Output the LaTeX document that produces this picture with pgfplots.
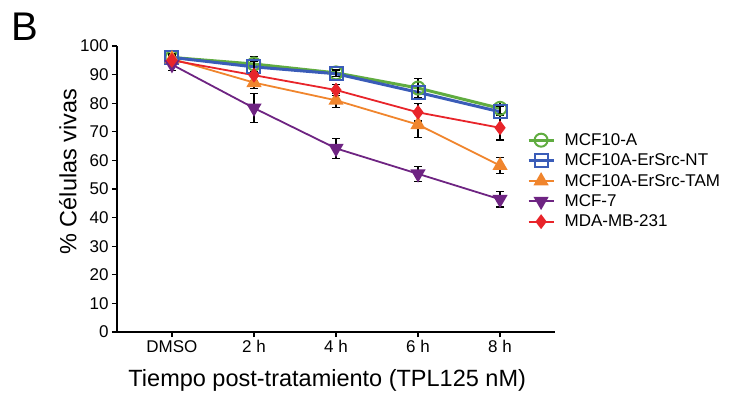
\documentclass[border=0pt]{standalone}
\usepackage{pgfplots}
\pgfplotsset{compat=1.18}
\usepackage{fontspec}
\setmainfont{Liberation Sans}
\definecolor{cgreen}{RGB}{96,172,64}
\definecolor{cblue}{RGB}{58,92,184}
\definecolor{corange}{RGB}{240,133,45}
\definecolor{cpurple}{RGB}{110,36,130}
\definecolor{cred}{RGB}{232,36,42}
\begin{document}
\begin{tikzpicture}
\begin{axis}[
  at={(0,0)}, anchor=south west,
  scale only axis, width=438bp, height=286bp,
  xmin=-0.67, xmax=4.67, ymin=0, ymax=100,
  axis x line*=bottom, axis y line*=left,
  axis line style={line width=1.3bp, black},
  tick align=outside, major tick length=5bp,
  tick style={line width=1.3bp, black},
  xtick={0,1,2,3,4}, xticklabels={DMSO,2 h,4 h,6 h,8 h},
  ytick={0,10,...,100},
  /pgf/number format/assume math mode=true,
  tick label style={font=\fontsize{17bp}{20bp}\selectfont},
  xlabel={Tiempo post-tratamiento (TPL125 nM)},
  ylabel={\% Células vivas},
  label style={font=\fontsize{23.5bp}{27bp}\selectfont},
  xlabel style={at={(axis description cs:0.48,-0.168)}, anchor=center},
  ylabel style={at={(axis description cs:-0.112,0.561)}, rotate=0, anchor=center},
  clip=false,
  legend cell align=left,
  legend style={at={(axis description cs:0.929,0.707)}, anchor=north west, draw=none, fill=none,
    font=\fontsize{17bp}{20bp}\selectfont, row sep=4bp,
    nodes={inner sep=1.5bp}},
  legend image code/.code={\draw[mark repeat=2,mark phase=2] plot coordinates {(0bp,0bp) (12.5bp,0bp) (25bp,0bp)};},
  error bars/y dir=both, error bars/y explicit,
  error bars/error bar style={black, line width=1.2bp, solid},
  error bars/error mark options={rotate=90, black, mark size=4bp, line width=1.2bp},
]
\addplot[cgreen, line width=3bp, mark=o, mark size=6.5bp, mark options={line width=2bp, fill=none}]
  coordinates {(0,96.0) +- (0,1.5) (1,93.7) +- (0,2.7) (2,90.6) +- (0,1.2) (3,85.3) +- (0,3.4) (4,78.2) +- (0,2.0)};
\addlegendentry{\hspace{8bp}MCF10-A}
\addplot[cblue, line width=3bp, mark=square, mark size=6.5bp, mark options={line width=2bp, fill=none}]
  coordinates {(0,96.0) +- (0,1.2) (1,92.7) +- (0,1.8) (2,90.3) +- (0,1.0) (3,83.8) +- (0,2.0) (4,77.0) +- (0,2.0)};
\addlegendentry{\hspace{8bp}MCF10A-ErSrc-NT}
\addplot[corange, line width=1.8bp, mark=triangle*, mark size=7bp, mark options={fill=corange}]
  coordinates {(0,95.5) +- (0,1.5) (1,87.2) +- (0,2.2) (2,81.0) +- (0,2.5) (3,72.5) +- (0,4.5) (4,58.2) +- (0,2.8)};
\addlegendentry{\hspace{8bp}MCF10A-ErSrc-TAM}
\addplot[cpurple, line width=1.8bp, mark=triangle*, mark size=7bp, mark options={fill=cpurple, rotate=180}]
  coordinates {(0,93.5) +- (0,2.0) (1,78.3) +- (0,5.0) (2,64.2) +- (0,3.4) (3,55.3) +- (0,2.6) (4,46.4) +- (0,2.7)};
\addlegendentry{\hspace{8bp}MCF-7}
\addplot[cred, line width=1.8bp, mark=diamond*, mark size=6bp, mark options={fill=cred}]
  coordinates {(0,95.0) +- (0,1.5) (1,89.8) +- (0,2.0) (2,84.6) +- (0,2.0) (3,76.8) +- (0,3.0) (4,71.4) +- (0,4.3)};
\addlegendentry{\hspace{8bp}MDA-MB-231}
\node[font=\fontsize{40bp}{44bp}\selectfont, anchor=center] at (rel axis cs:-0.21,1.066) {B};
\end{axis}
\pgfresetboundingbox
\useasboundingbox (-117bp,-63bp) rectangle (614bp,332bp);
\end{tikzpicture}
\end{document}
